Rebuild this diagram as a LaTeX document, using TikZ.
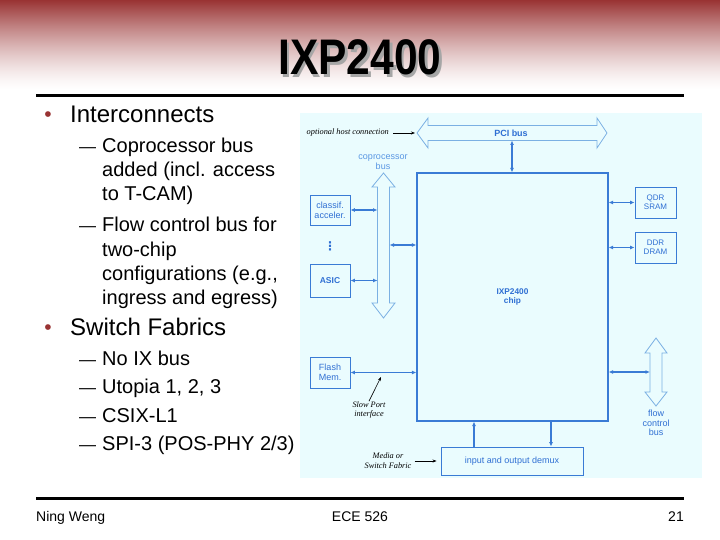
\documentclass[tikz,border=0pt]{standalone}
\usepackage{fontspec}
\setmainfont{Liberation Sans}
\newfontfamily\serifit{Liberation Serif}
\newfontfamily\djv{DejaVu Sans}
\usetikzlibrary{arrows.meta}
\definecolor{hdr}{HTML}{993333}
\definecolor{bul}{HTML}{993333}
\definecolor{dbg}{HTML}{EAFCFE}
\definecolor{dblue}{HTML}{3A7BD5}
\definecolor{lblue}{HTML}{7BB0E3}
\definecolor{tblue}{HTML}{2F6FD3}
\definecolor{cblue}{HTML}{5A97E3}
\begin{document}
\begin{tikzpicture}[x=1pt,y=-1pt,
  lnk/.style={draw=dblue, line width=1.2pt, {Latex[length=4.5pt,width=4pt]}-{Latex[length=4.5pt,width=4pt]}},
  onearr/.style={draw=dblue, line width=1.2pt, -{Latex[length=4.5pt,width=4pt]}},
  blk/.style={draw=dblue, line width=0.9pt, fill=dbg, inner sep=0pt, align=center, text=tblue, font=\fontsize{9}{10}\selectfont},
  bus/.style={draw=lblue, line width=0.8pt, fill=dbg, line join=miter},
  btxt/.style={text=tblue, align=center, font=\fontsize{9}{9.5}\selectfont, inner sep=0pt},
  itl/.style={font=\serifit\itshape\fontsize{8.3}{9.8}\selectfont, align=center, inner sep=0pt},
  blackarr/.style={draw=black, line width=0.6pt, -{Stealth[length=4pt,width=3pt]}},
  mtxt/.style={anchor=base west, inner sep=0pt, font=\fontsize{20}{24}\selectfont},
  btop/.style={anchor=base west, inner sep=0pt, font=\fontsize{24}{28}\selectfont},
  dsh/.style={anchor=base west, inner sep=0pt, font=\fontsize{17}{20}\selectfont},
  bdot/.style={anchor=base, inner sep=0pt, text=bul, font=\fontsize{21}{21}\selectfont},
  foot/.style={anchor=base, inner sep=0pt, font=\fontsize{14}{16}\selectfont},
]
\useasboundingbox (0,0) rectangle (720,540);
\fill[white] (0,0) rectangle (720,540);
% header gradient
\foreach \i in {0,...,89} {
  \pgfmathsetmacro\p{100*(1-\i/90)^1.4}
  \fill[hdr!\p!white] (0,\i) rectangle (720,\i+1.5);
}
% title
\node[anchor=base, inner sep=0pt, text=black!35, font=\bfseries\fontsize{50}{50}\selectfont] (tshadow) at (362.5,77.5) {\scalebox{0.85}[1]{IXP2400}};
\node[anchor=base, inner sep=0pt, text=black, font=\bfseries\fontsize{50}{50}\selectfont] (title) at (360,75) {\scalebox{0.85}[1]{IXP2400}};
% rules
\draw[line width=3pt] (36,96) -- (684,96);
\draw[line width=3pt] (36,498) -- (684,498);
% footer
\node[foot, anchor=base west] (f1) at (36,521) {Ning Weng};
\node[foot] (f2) at (360,521) {ECE 526};
\node[foot, anchor=base east] (f3) at (684,521) {21};
% bullets
\node[bdot] (b1) at (48,122) {•};
\node[btop] (t1) at (70,123) {Interconnects};
\node[dsh] (d1) at (79,153) {—};
\node[mtxt] (t11) at (102,153) {Coprocessor bus};
\node[mtxt] (t12) at (102,177) {added (incl. access};
\node[mtxt] (t13) at (102,201) {to T-CAM)};
\node[dsh] (d2) at (79,231.5) {—};
\node[mtxt] (t21) at (102,231.5) {Flow control bus for};
\node[mtxt] (t22) at (102,256) {two-chip};
\node[mtxt] (t23) at (102,280) {configurations (e.g.,};
\node[mtxt] (t24) at (102,304) {ingress and egress)};
\node[bdot] (b2) at (48,334) {•};
\node[btop] (t2) at (70,335) {Switch Fabrics};
\node[dsh] (d3) at (79,365) {—};
\node[mtxt] (s1) at (102,365) {No IX bus};
\node[dsh] (d4) at (79,393.5) {—};
\node[mtxt] (s2) at (102,393.5) {Utopia 1, 2, 3};
\node[dsh] (d5) at (79,422) {—};
\node[mtxt] (s3) at (102,422) {CSIX-L1};
\node[dsh] (d6) at (79,450.5) {—};
\node[mtxt] (s4) at (102,450.5) {SPI-3 (POS-PHY 2/3)};
% diagram background
\fill[dbg] (300,113) rectangle (702,478);
% hollow buses
\draw[bus] (417,133) -- (428,118) -- (428,125.5) -- (597,125.5) -- (597,118) -- (607,133) -- (597,148) -- (597,140.5) -- (428,140.5) -- (428,148) -- cycle;
\node[btxt, font=\bfseries\fontsize{9}{9.5}\selectfont] (pcilbl) at (511,133) {PCI bus};
\draw[bus] (383.5,173) -- (395,187) -- (389.5,187) -- (389.5,303) -- (395,303) -- (383.5,318) -- (372,303) -- (377.5,303) -- (377.5,187) -- (372,187) -- cycle;
\node[btxt, text=cblue] (cplbl) at (383,162) {coprocessor\\bus};
\draw[bus] (656,338) -- (667,353) -- (662,353) -- (662,392) -- (667,392) -- (656,406) -- (645,392) -- (650,392) -- (650,353) -- (645,353) -- cycle;
\node[btxt] (fllbl) at (656,423) {flow\\control\\bus};
% blocks
\node[blk, line width=1.2pt, minimum width=191pt, minimum height=248pt, font=\bfseries\fontsize{8.3}{9.3}\selectfont] (chip) at (512.5,297) {IXP2400\\chip};
\node[blk, minimum width=40pt, minimum height=30pt] (classif) at (330,210) {classif.\\acceler.};
\node[blk, minimum width=40pt, minimum height=33pt, font=\bfseries\fontsize{8.5}{9.5}\selectfont] (asic) at (330,280.5) {ASIC};
\node[blk, minimum width=40pt, minimum height=31pt] (flash) at (330,372.5) {Flash\\Mem.};
\node[blk, minimum width=41pt, minimum height=31pt, font=\fontsize{8}{9}\selectfont] (qdr) at (655.5,202.5) {QDR\\SRAM};
\node[blk, minimum width=41pt, minimum height=31pt, font=\fontsize{8}{9}\selectfont] (ddr) at (655.5,247.5) {DDR\\DRAM};
\node[blk, minimum width=142pt, minimum height=28pt, font=\fontsize{9}{10}\selectfont] (demux) at (512,461) {input and output demux};
\node[btxt, font=\djv\bfseries\fontsize{12}{12}\selectfont] (dots) at (330,246) {⋮};
% coordinates
\coordinate (cpL) at (377.5,0);
\coordinate (cpchip) at (389.5,245);
\coordinate (flL) at (650,372);
\coordinate (pciB) at (512,140.5);
\coordinate (pciTip) at (415,133);
\coordinate (upx) at (474,0);
\coordinate (dnx) at (551,0);
\coordinate (spt) at (381,377);
% connectors
\draw[lnk] (classif.east) -- (classif.east -| cpL);
\draw[lnk] (asic.east) -- (asic.east -| cpL);
\draw[lnk] (cpchip) -- (cpchip -| chip.west);
\draw[lnk] (flash.east) -- (flash.east -| chip.west);
\draw[lnk] (qdr.west -| chip.east) -- (qdr.west);
\draw[lnk] (ddr.west -| chip.east) -- (ddr.west);
\draw[lnk] (flL -| chip.east) -- (flL);
\draw[lnk] (pciB) -- (pciB |- chip.north);
\draw[onearr] (upx |- demux.north) -- (upx |- chip.south);
\draw[onearr] (dnx |- chip.south) -- (dnx |- demux.north);
% italic labels
\node[itl, anchor=east] (host) at (389,133) {optional host connection};
\draw[blackarr] ([xshift=4pt]host.east) -- (pciTip);
\node[itl] (slow) at (369,410) {Slow Port\\interface};
\draw[blackarr] (slow.north) -- (spt);
\node[itl] (media) at (388,461) {Media or\\Switch Fabric};
\draw[blackarr, shorten >=4pt] ([xshift=3pt]media.east) -- (demux.west);
\end{tikzpicture}
\end{document}
